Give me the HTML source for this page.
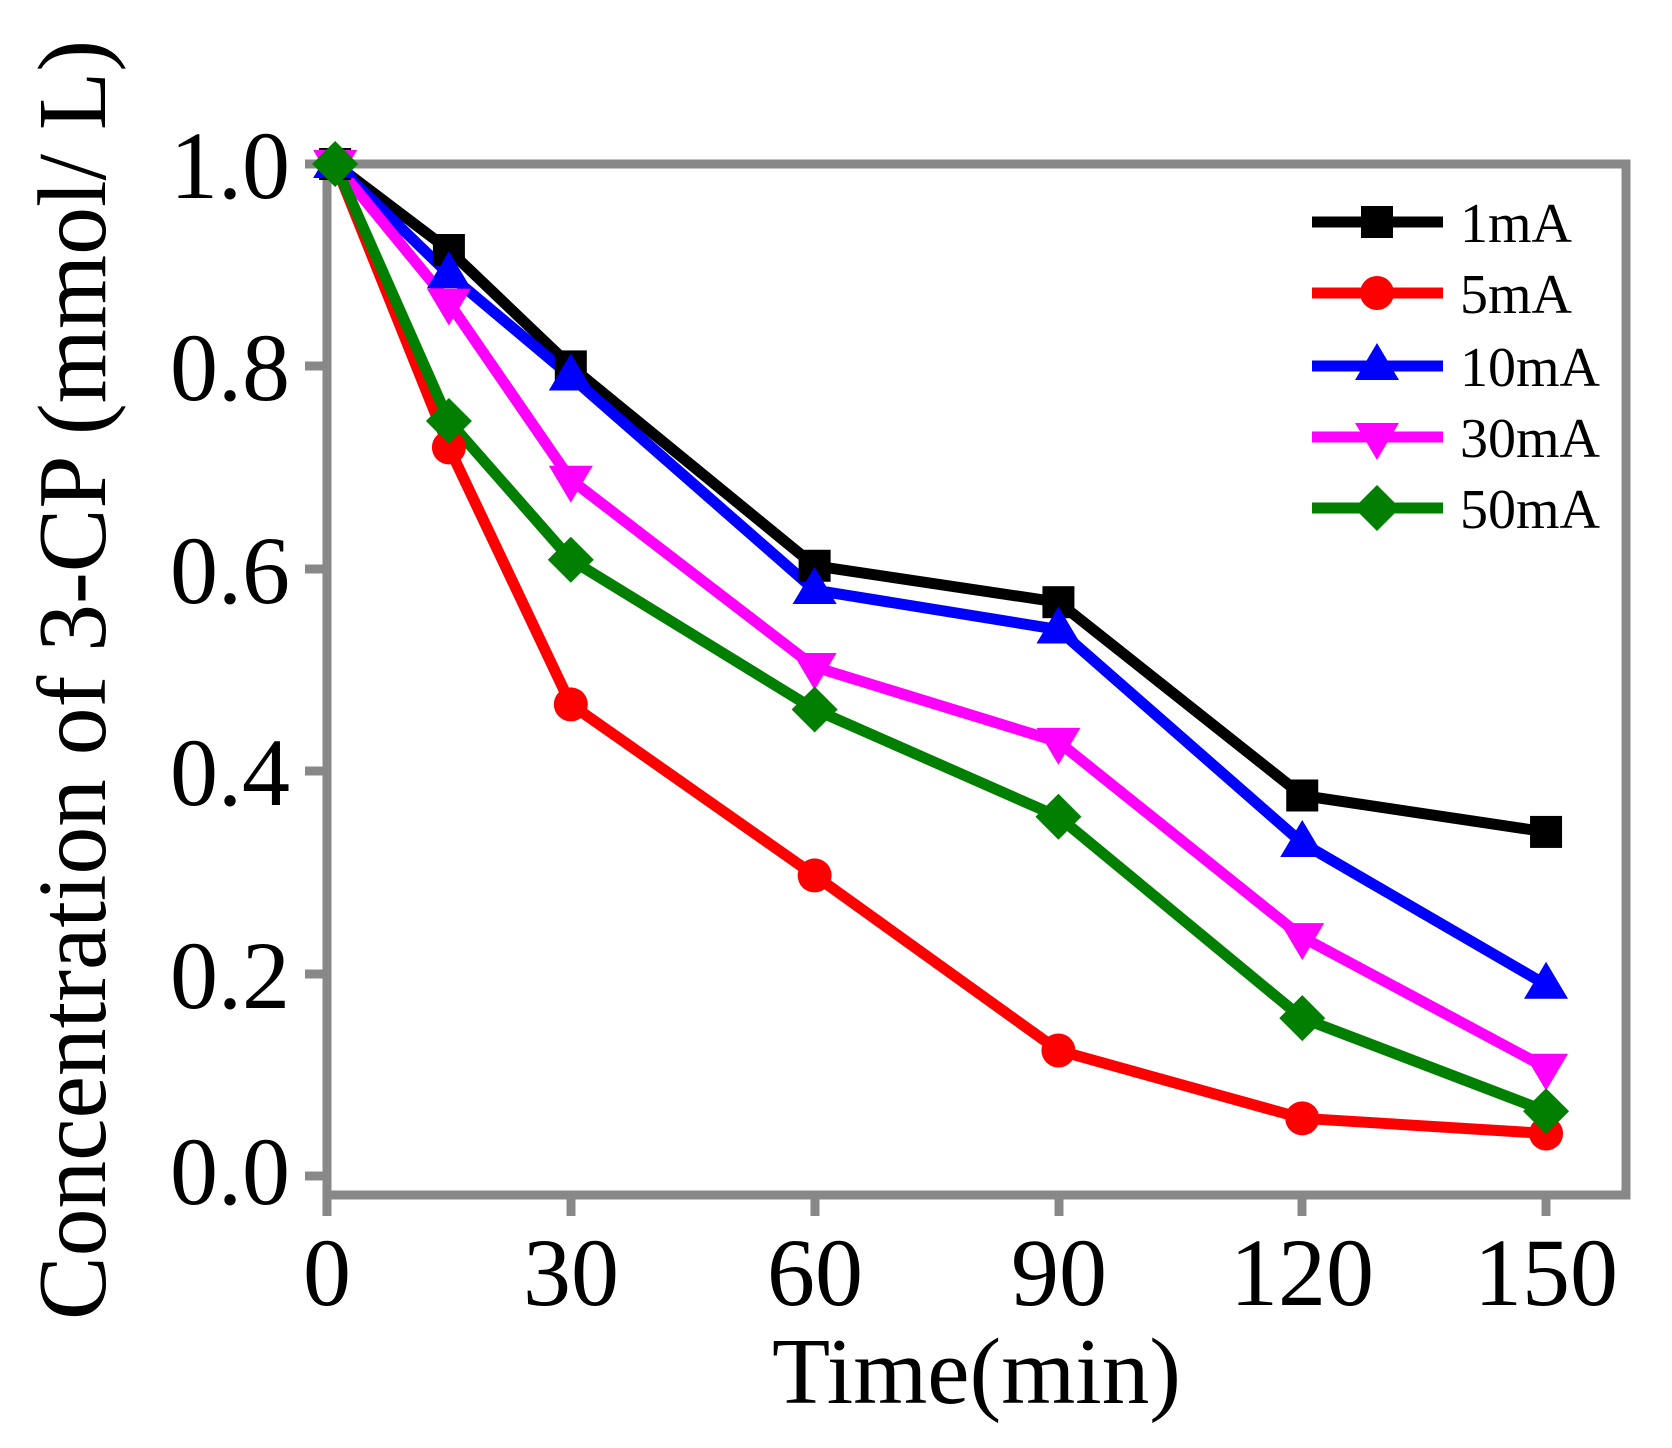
<!DOCTYPE html>
<html><head><meta charset="utf-8"><style>html,body{margin:0;padding:0;background:#fff}svg{display:block}</style></head>
<body>
<svg id="s" width="1672" height="1448" viewBox="0 0 1672 1448" xmlns="http://www.w3.org/2000/svg" font-family="Liberation Serif, serif">
<g stroke="#888" stroke-width="9" fill="none">
<rect x="327" y="164" width="1299" height="1031"/>
<line x1="305" y1="164" x2="327" y2="164"/><line x1="305" y1="366" x2="327" y2="366"/><line x1="305" y1="569" x2="327" y2="569"/><line x1="305" y1="771" x2="327" y2="771"/><line x1="305" y1="974" x2="327" y2="974"/><line x1="305" y1="1176" x2="327" y2="1176"/>
<line x1="327" y1="1195" x2="327" y2="1216"/><line x1="571" y1="1195" x2="571" y2="1216"/><line x1="815" y1="1195" x2="815" y2="1216"/><line x1="1059" y1="1195" x2="1059" y2="1216"/><line x1="1302" y1="1195" x2="1302" y2="1216"/><line x1="1546" y1="1195" x2="1546" y2="1216"/>
</g>
<g font-size="96" text-anchor="end" fill="#000">
<text x="290" y="198">1.0</text><text x="290" y="400">0.8</text><text x="290" y="603">0.6</text><text x="290" y="805">0.4</text><text x="290" y="1008">0.2</text><text x="290" y="1204">0.0</text>
</g>
<g font-size="96" text-anchor="middle" fill="#000">
<text x="327" y="1305">0</text><text x="571" y="1305">30</text><text x="815" y="1305">60</text><text x="1059" y="1305">90</text><text x="1302" y="1305">120</text><text x="1546" y="1305">150</text>
</g>
<text x="772" y="1403" font-size="94" textLength="409" lengthAdjust="spacingAndGlyphs">Time(min)</text>
<text transform="translate(105,1320) rotate(-90)" font-size="98" textLength="1280" lengthAdjust="spacingAndGlyphs">Concentration of 3-CP (mmol/ L)</text>
<g id="series"></g>
<g font-size="56" fill="#000">
<text x="1460" y="242">1mA</text><text x="1460" y="313">5mA</text><text x="1460" y="386">10mA</text><text x="1460" y="457">30mA</text><text x="1460" y="528">50mA</text>
</g>
</svg>
<script>
var X=[1,15,30,60,90,120,150];
var S=[
["#000","sq",[1,0.915,0.80,0.603,0.567,0.376,0.340],222],
["#f00","ci",[1,0.72,0.466,0.297,0.124,0.057,0.042],293],
["#00f","tu",[1,0.891,0.79,0.579,0.54,0.329,0.189],366],
["#f0f","td",[1,0.863,0.688,0.503,0.429,0.236,0.107],437],
["#007f00","di",[1,0.746,0.609,0.461,0.355,0.156,0.064],508]];
function px(x){return 327+x*8.127}function py(v){return 1176-v*1012}
function mk(t,x,y,c){
 if(t=="sq")return '<rect x="'+(x-16)+'" y="'+(y-16)+'" width="32" height="32" fill="'+c+'"/>';
 if(t=="ci")return '<circle cx="'+x+'" cy="'+y+'" r="17" fill="'+c+'"/>';
 if(t=="tu")return '<polygon points="'+x+','+(y-23)+' '+(x+22)+','+(y+14)+' '+(x-22)+','+(y+14)+'" fill="'+c+'"/>';
 if(t=="td")return '<polygon points="'+x+','+(y+23)+' '+(x+22)+','+(y-14)+' '+(x-22)+','+(y-14)+'" fill="'+c+'"/>';
 return '<polygon points="'+x+','+(y-23)+' '+(x+23)+','+y+' '+x+','+(y+23)+' '+(x-23)+','+y+'" fill="'+c+'"/>';
}
var h='';
S.forEach(function(s){var p=X.map(function(x,i){return px(x)+','+py(s[2][i])}).join(' ');
 h+='<polyline points="'+p+'" fill="none" stroke="'+s[0]+'" stroke-width="11" stroke-linejoin="miter"/>';});
S.forEach(function(s){X.forEach(function(x,i){h+=mk(s[1],px(x),py(s[2][i]),s[0])});
 h+='<line x1="1312" y1="'+s[3]+'" x2="1443" y2="'+s[3]+'" stroke="'+s[0]+'" stroke-width="11"/>'+mk(s[1],1377,s[3],s[0]);});
document.getElementById('series').innerHTML=h;
</script>
</body></html>
